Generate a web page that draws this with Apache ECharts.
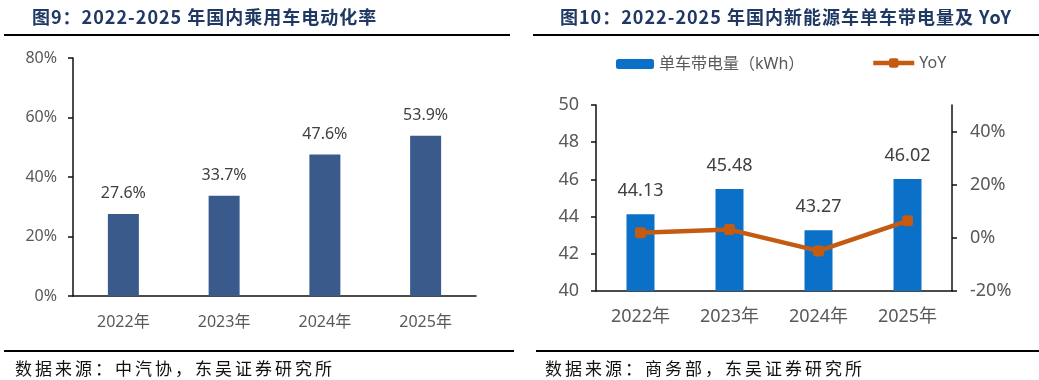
<!DOCTYPE html>
<html><head><meta charset="utf-8">
<script src="https://cdn.jsdelivr.net/npm/echarts@6/dist/echarts.min.js"></script>
<style>
body{margin:0;width:1039px;height:380px;background:#fff;overflow:hidden;position:relative;font-family:'Noto Sans CJK SC',sans-serif}
#chart{position:absolute;left:0;top:0;width:1039px;height:380px}
.t{position:absolute;top:4px;font-weight:bold;font-size:18px;color:#1f3864;white-space:nowrap;line-height:24px;letter-spacing:1px}
.rule{position:absolute;height:2px;background:#000}
.src{position:absolute;top:357px;font-size:17px;letter-spacing:3px;line-height:22px;color:#111;white-space:nowrap}
</style></head>
<body>
<div id="chart"></div>
<div class="t" style="left:32px">图9：2022-2025 年国内乘用车电动化率</div>
<div class="t" style="left:560px;letter-spacing:1px">图10：2022-2025 年国内新能源车单车带电量及 YoY</div>
<div class="rule" style="left:4px;width:506px;top:34px"></div>
<div class="rule" style="left:533px;width:506px;top:34px"></div>
<div class="rule" style="left:4px;width:510px;top:350px"></div>
<div class="rule" style="left:536px;width:503px;top:350px"></div>
<div class="src" style="left:15px">数据来源：中汽协，东吴证券研究所</div>
<div class="src" style="left:545px">数据来源：商务部，东吴证券研究所</div>
<script>
const years = ['2022年', '2023年', '2024年', '2025年'];
const evRate = [27.6, 33.7, 47.6, 53.9];          // 电动化率 (%)
const kwhPerCar = [44.13, 45.48, 43.27, 46.02];   // 单车带电量 (kWh)
const yoy = [1.9, 3.1, -4.9, 6.4];                // YoY (%)
const yoyTicks = [-20, 0, 20, 40];

const FONT = "'Noto Sans','Noto Sans CJK SC',sans-serif";
const axisLineStyle = { show: true, onZero: false, lineStyle: { color: '#111', width: 1.5 } };
const labelGray = '#595959';

const chart = echarts.init(document.getElementById('chart'));
chart.setOption({
  animation: false,
  textStyle: { fontFamily: FONT },
  grid: [
    { left: 73, width: 403, top: 58, height: 238 },
    { left: 596, width: 356, top: 105, height: 186 }
  ],
  legend: [
    { data: ['单车带电量（kWh）'], left: 611, top: 51, itemWidth: 38, itemHeight: 10, itemGap: 4,
      textStyle: { color: labelGray, fontSize: 16, fontFamily: FONT } },
    { data: ['YoY'], left: 866, top: 50, itemWidth: 41, itemHeight: 12,
      lineStyle: { width: 4.5 },
      textStyle: { color: labelGray, fontSize: 16, fontFamily: FONT } }
  ],
  xAxis: [
    { type: 'category', gridIndex: 0, data: years, axisLine: axisLineStyle, axisTick: { show: false },
      axisLabel: { color: labelGray, fontSize: 16, margin: 18 } },
    { type: 'category', gridIndex: 1, data: years, axisLine: axisLineStyle, axisTick: { show: false },
      axisLabel: { color: labelGray, fontSize: 18, margin: 17 } }
  ],
  yAxis: [
    { type: 'value', gridIndex: 0, min: 0, max: 80, interval: 20, axisLine: axisLineStyle,
      axisTick: { show: true, inside: false, length: 5, lineStyle: { color: '#111', width: 1.5 } },
      splitLine: { show: false },
      axisLabel: { color: labelGray, fontSize: 16, margin: 16, formatter: '{value}%' } },
    { type: 'value', gridIndex: 1, min: 40, max: 50, interval: 2, axisLine: axisLineStyle,
      axisTick: { show: true, length: 5, lineStyle: { color: '#111', width: 1.5 } },
      splitLine: { show: false },
      axisLabel: { color: labelGray, fontSize: 18, margin: 17 } },
    { type: 'value', gridIndex: 1, position: 'right', min: -20, max: 50, interval: 20, axisLine: axisLineStyle,
      axisTick: { show: true, length: 5, customValues: yoyTicks, lineStyle: { color: '#111', width: 1.5 } },
      splitLine: { show: false },
      axisLabel: { color: labelGray, fontSize: 18, margin: 18, customValues: yoyTicks, formatter: '{value}%' } }
  ],
  series: [
    { type: 'bar', xAxisIndex: 0, yAxisIndex: 0, data: evRate, barWidth: 31,
      itemStyle: { color: '#3a5a8c' },
      label: { show: true, position: 'top', distance: 12, color: '#404040', fontSize: 16,
        formatter: p => p.value.toFixed(1) + '%' } },
    { type: 'bar', name: '单车带电量（kWh）', xAxisIndex: 1, yAxisIndex: 1, data: kwhPerCar, barWidth: 28,
      itemStyle: { color: '#0a70c8' },
      label: { show: true, position: 'top', distance: 14, color: '#404040', fontSize: 18,
        formatter: p => p.value.toFixed(2) } },
    { type: 'line', name: 'YoY', xAxisIndex: 1, yAxisIndex: 2, data: yoy,
      symbol: 'roundRect', symbolSize: 11,
      lineStyle: { color: '#c55a11', width: 4.5 },
      itemStyle: { color: '#c55a11' } }
  ]
});
</script>
</body></html>
